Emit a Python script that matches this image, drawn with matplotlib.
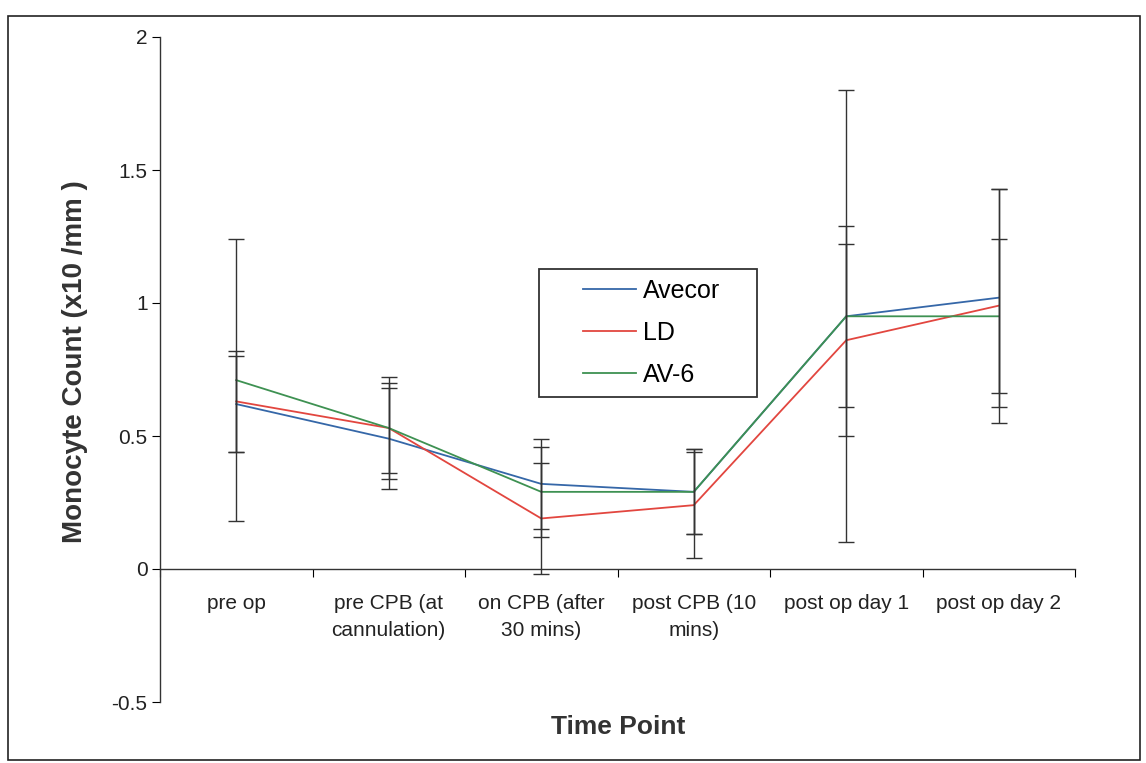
import matplotlib
import matplotlib.pyplot as plt
from matplotlib.patches import Rectangle
import numpy as np

matplotlib.use('AGG')
plt.rcParams['font.family'] = ['Liberation Sans', 'DejaVu Sans']

# categories and data
time_points = ["pre op", "pre CPB (at\ncannulation)", "on CPB (after\n30 mins)",
               "post CPB (10\nmins)", "post op day 1", "post op day 2"]

avecor = [0.62, 0.49, 0.32, 0.29, 0.95, 1.02]
avecor_err = [0.18, 0.19, 0.17, 0.16, 0.34, 0.41]

ld = [0.63, 0.53, 0.19, 0.24, 0.86, 0.99]
ld_err = [0.19, 0.19, 0.21, 0.20, 0.36, 0.44]

av6 = [0.71, 0.53, 0.29, 0.29, 0.95, 0.95]
av6_err = [0.53, 0.17, 0.17, 0.16, 0.85, 0.29]

series = [("Avecor", avecor, avecor_err, "#3567a8"),
          ("LD", ld, ld_err, "#e2463f"),
          ("AV-6", av6, av6_err, "#3e9152")]

fig = plt.figure(figsize=(11.46, 7.63), dpi=100)
# outer frame of the original figure
fig.patches.append(Rectangle((8 / 1146, 3 / 763), 1132 / 1146, 744 / 763,
                             transform=fig.transFigure, fill=False,
                             edgecolor="#222222", linewidth=1.2))

ax = fig.add_axes([160 / 1146, 1 - 702 / 763, 915 / 1146, 665 / 763])

x = np.arange(len(time_points)) + 0.5
for name, vals, err, col in series:
    ax.plot(x, vals, color=col, linewidth=1.3, label=name, zorder=2)
for name, vals, err, col in series:
    ax.errorbar(x, vals, yerr=err, fmt="none", ecolor="#333333",
                elinewidth=1.0, capsize=6, capthick=1.0, zorder=3)

ax.set_xlim(0, len(time_points))
ax.set_ylim(-0.5, 2)
ax.set_yticks([-0.5, 0, 0.5, 1, 1.5, 2])
ax.set_yticklabels(["-0.5", "0", "0.5", "1", "1.5", "2"])

# category boundaries get the ticks, names sit between them
ax.set_xticks(np.arange(len(time_points) + 1))
ax.set_xticklabels([])
ax.tick_params(axis="x", which="major", length=6, direction="out")
ax.tick_params(axis="y", length=6, direction="out", labelsize=15, pad=3,
               labelcolor="#222222")
for xi, name in zip(x, time_points):
    ax.text(xi, 0.1624, name, transform=ax.get_xaxis_transform(),
            ha="center", va="top", fontsize=15, color="#222222",
            linespacing=1.55, multialignment="center")

ax.spines["top"].set_visible(False)
ax.spines["right"].set_visible(False)
ax.spines["bottom"].set_position(("data", 0))
for s in ("left", "bottom"):
    ax.spines[s].set_color("#333333")
    ax.spines[s].set_linewidth(1.0)

fig.text(75 / 1146, 1 - 362 / 763, "Monocyte Count (x10 /mm )", rotation=90,
         ha="center", va="center", fontsize=20, fontweight="bold", color="#333333")
fig.text(618 / 1146, 1 - 727 / 763, "Time Point", ha="center", va="center",
         fontsize=19, fontweight="bold", color="#333333")

# legend entries without frame, then an Excel-style box around them
leg = ax.legend(loc="upper left", bbox_to_anchor=(0.4623, 0.636),
                borderaxespad=0, borderpad=0, fontsize=18, frameon=False,
                handlelength=2.1, handletextpad=0.28, labelspacing=0.72)
ax.add_patch(Rectangle((0.4142, 0.4586), 0.2383, 0.1925, transform=ax.transAxes,
                       fill=False, edgecolor="#333333", linewidth=1.3, zorder=4))

plt.savefig("out.png", dpi=100)
